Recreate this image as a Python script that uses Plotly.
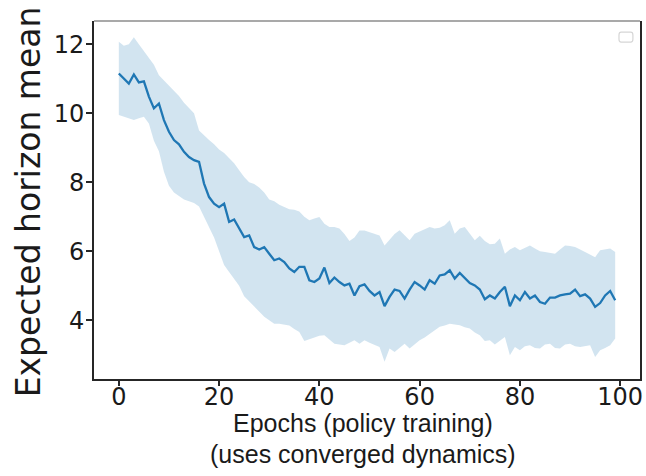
import plotly.graph_objects as go

epochs = list(range(100))

mean = [11.15, 11.00, 10.86, 11.12, 10.89, 10.92, 10.48, 10.14, 10.28, 9.80,
        9.46, 9.22, 9.10, 8.88, 8.73, 8.64, 8.59, 7.96, 7.57, 7.38,
        7.28, 7.38, 6.85, 6.92, 6.66, 6.41, 6.46, 6.12, 6.05, 6.12,
        5.93, 5.74, 5.79, 5.69, 5.50, 5.40, 5.55, 5.55, 5.16, 5.11,
        5.21, 5.53, 5.08, 5.24, 5.11, 5.01, 5.06, 4.72, 4.99, 5.04,
        4.85, 4.72, 4.82, 4.41, 4.68, 4.89, 4.85, 4.63, 4.89, 5.11,
        5.01, 4.89, 5.16, 5.06, 5.30, 5.33, 5.45, 5.21, 5.37, 5.21,
        5.08, 5.01, 4.89, 4.61, 4.72, 4.63, 4.82, 4.97, 4.41, 4.72,
        4.58, 4.82, 4.63, 4.72, 4.53, 4.48, 4.66, 4.66, 4.72, 4.75,
        4.77, 4.89, 4.70, 4.75, 4.63, 4.39, 4.50, 4.72, 4.85, 4.58]

upper = [12.07, 11.95, 12.00, 12.20, 12.00, 11.80, 11.60, 11.40, 11.10, 10.95,
         10.80, 10.65, 10.50, 10.30, 10.15, 10.00, 9.50, 9.35, 9.22, 9.10,
         8.95, 8.85, 8.70, 8.55, 8.35, 8.15, 8.00, 7.95, 7.85, 7.70,
         7.50, 7.45, 7.35, 7.28, 7.22, 7.20, 7.15, 7.00, 6.90, 6.95,
         6.99, 6.80, 6.70, 6.70, 6.66, 6.50, 6.30, 6.40, 6.60, 6.60,
         6.56, 6.50, 6.46, 6.17, 6.35, 6.50, 6.61, 6.45, 6.32, 6.51,
         6.58, 6.65, 6.70, 6.66, 6.68, 6.75, 6.90, 6.51, 6.66, 6.70,
         6.50, 6.32, 6.45, 6.30, 6.20, 6.22, 6.37, 5.93, 6.05, 6.12,
         6.03, 6.10, 6.17, 6.08, 6.00, 5.98, 5.95, 5.93, 6.05, 6.17,
         6.15, 6.12, 6.05, 5.98, 5.90, 5.83, 6.03, 6.06, 6.08, 5.98]

lower = [9.95, 9.90, 9.85, 9.80, 9.85, 9.90, 9.70, 9.20, 8.90, 8.30,
         7.90, 7.70, 7.60, 7.50, 7.45, 7.40, 7.30, 7.00, 6.70, 6.40,
         6.00, 5.60, 5.40, 5.20, 5.00, 4.70, 4.55, 4.40, 4.25, 4.10,
         4.00, 3.90, 3.90, 3.87, 3.85, 3.75, 3.66, 3.40, 3.45, 3.52,
         3.55, 3.57, 3.45, 3.32, 3.30, 3.28, 3.35, 3.42, 3.32, 3.42,
         3.35, 3.28, 3.23, 2.80, 3.18, 3.08, 3.20, 3.32, 3.18, 3.30,
         3.42, 3.50, 3.61, 3.70, 3.81, 3.85, 3.90, 3.88, 3.86, 3.80,
         3.76, 3.65, 3.57, 3.40, 3.42, 3.30, 3.40, 3.52, 2.99, 3.23,
         3.13, 3.25, 3.28, 3.20, 3.18, 3.30, 3.32, 3.20, 3.18, 3.30,
         3.32, 3.25, 3.23, 3.25, 3.28, 2.94, 3.13, 3.20, 3.28, 3.47]

x_ticks = [0, 20, 40, 60, 80, 100]
y_ticks = [4, 6, 8, 10, 12]

x_title_1 = "Epochs (policy training)"
x_title_2 = "(uses converged dynamics)"
y_title = "Expected horizon mean"

fig = go.Figure()
fig.add_trace(go.Scatter(x=epochs, y=lower, mode="lines", line=dict(width=0),
                         showlegend=False, hoverinfo="skip"))
fig.add_trace(go.Scatter(x=epochs, y=upper, mode="lines", line=dict(width=0),
                         fill="tonexty", fillcolor="rgba(31,119,180,0.2)",
                         showlegend=False, hoverinfo="skip"))
fig.add_trace(go.Scatter(x=epochs, y=mean, mode="lines",
                         line=dict(color="#1f77b4", width=2.3), showlegend=False))

tick_font = dict(family="DejaVu Sans", size=24, color="#1a1a1a")

fig.update_layout(
    width=646, height=476,
    margin=dict(l=94, r=6, t=21, b=97),
    paper_bgcolor="white", plot_bgcolor="white",
    xaxis=dict(range=[-4.95, 103.95], tickvals=x_ticks, showgrid=False, zeroline=False,
               showline=True, linecolor="#262626", linewidth=1.6, mirror=False,
               ticks="outside", ticklen=5, tickwidth=1.6, tickcolor="#262626",
               tickfont=tick_font, ticklabelstandoff=-10, automargin=False),
    yaxis=dict(range=[2.30, 12.67], tickvals=y_ticks, showgrid=False, zeroline=False,
               showline=True, linecolor="#262626", linewidth=1.6, mirror=True,
               ticks="outside", ticklen=6, tickwidth=1.6, tickcolor="#262626",
               tickfont=tick_font, ticklabelstandoff=-3, automargin=False),
    shapes=[
        dict(type="line", xref="paper", yref="paper", x0=0, x1=1, y0=1, y1=1,
             line=dict(color="#8c8c8c", width=1.4)),
        dict(type="path", xref="paper", yref="paper",
             path="M 0.9655,0.969 L 0.983,0.969 Q 0.987,0.969 0.987,0.961 L 0.987,0.949 "
                  "Q 0.987,0.941 0.983,0.941 L 0.9655,0.941 Q 0.9615,0.941 0.9615,0.949 "
                  "L 0.9615,0.961 Q 0.9615,0.969 0.9655,0.969 Z",
             line=dict(color="#d6d6d6", width=1.2), fillcolor="white"),
    ],
    annotations=[
        dict(text=y_title, xref="paper", yref="paper", x=-0.121, y=0.496,
             xanchor="center", yanchor="middle", textangle=-90, showarrow=False,
             font=dict(family="DejaVu Sans", size=33, color="#1a1a1a")),
        dict(text=x_title_1, xref="paper", yref="paper", x=0.4927, y=1 - (423 - 21) / 358,
             xanchor="center", yanchor="middle", showarrow=False,
             font=dict(family="Liberation Sans", size=25, color="#1a1a1a")),
        dict(text=x_title_2, xref="paper", yref="paper", x=0.4927, y=1 - (454 - 21) / 358,
             xanchor="center", yanchor="middle", showarrow=False,
             font=dict(family="Liberation Sans", size=25, color="#1a1a1a")),
    ],
)

fig.write_html("out.html", config={"displayModeBar": False},
               post_script="document.body.style.margin='0';document.body.style.overflow='hidden';")
